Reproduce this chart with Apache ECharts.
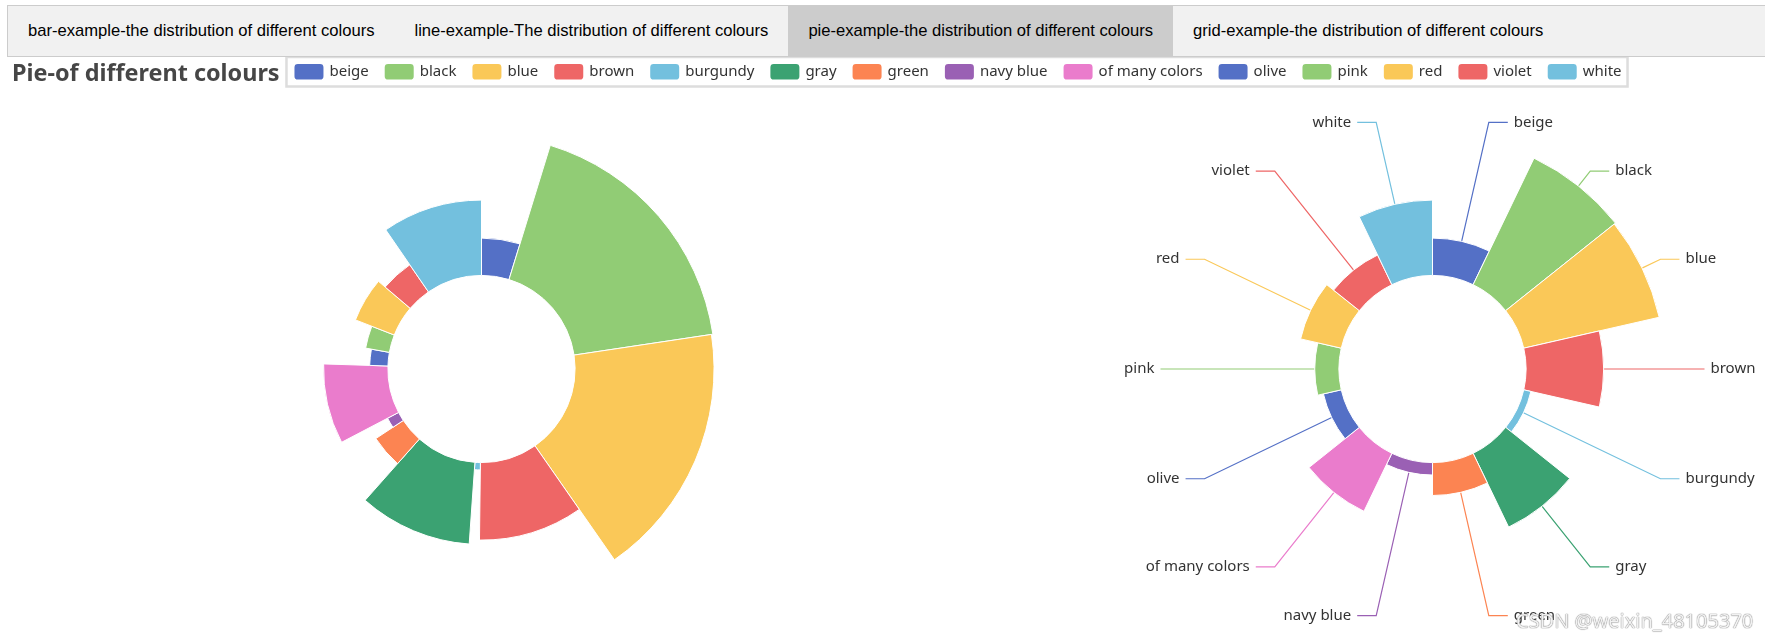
<!DOCTYPE html>
<html>
<head>
<meta charset="utf-8">
<title>pie-example</title>
<script src="https://cdn.jsdelivr.net/npm/echarts@6/dist/echarts.min.js"></script>
<style>
  body { margin: 0; overflow: hidden; background: #fff; }
  .tab { position: absolute; left: 7px; top: 5px; right: -5px; overflow: hidden; border: 1px solid #ccc; background-color: #f1f1f1; }
  .tab button { background-color: inherit; float: left; border: none; outline: none; padding: 15px 20px; line-height: 20px;
    font-family: Arial, "Liberation Sans", sans-serif; font-size: 16.6px; color: #000; }
  .tab button.active { background-color: #ccc; }
  #main { position: absolute; left: 6px; top: 57px; width: 1902px; height: 624px; }
  .mark { position: absolute; left: 1516px; top: 607px; font: 20px "Noto Sans", sans-serif; color: #f2f2f2;
    text-shadow: 0 0 1px #777, 0 0 1px #777; }
</style>
</head>
<body>
<div class="tab">
  <button>bar-example-the distribution of different colours</button>
  <button>line-example-The distribution of different colours</button>
  <button class="active">pie-example-the distribution of different colours</button>
  <button>grid-example-the distribution of different colours</button>
</div>
<div id="main"></div>
<div class="mark">CSDN @weixin_48105370</div>
<script>
// colour names and how many items of each
var colourNames = ['beige', 'black', 'blue', 'brown', 'burgundy', 'gray', 'green', 'navy blue',
  'of many colors', 'olive', 'pink', 'red', 'violet', 'white'];
var colourCounts = [51, 192, 190, 106, 10, 112, 45, 17, 88, 25, 33, 57, 45, 103];

var palette = ['#5470c6', '#91cc75', '#fac858', '#ee6666', '#73c0de', '#3ba272', '#fc8452', '#9a60b4', '#ea7ccc'];
var font = '"Microsoft YaHei", "Noto Sans", sans-serif';

var pieData = []; //name/value pairs for both pies
for (var i = 0; i < colourNames.length; i++) {
  pieData.push({ name: colourNames[i], value: colourCounts[i] });
}

var chart = echarts.init(document.getElementById('main'));
chart.setOption({
  color: palette,
  animation: false,
  title: {
    text: 'Pie-of different colours',
    left: 0,
    top: 0,
    padding: 6,
    textStyle: { fontFamily: font, fontSize: 23.4, fontWeight: 'bold', color: '#464646' }
  },
  legend: {
    data: colourNames,
    left: 'center',
    top: 0,
    padding: [5, 6, 5, 6],
    borderColor: '#ddd',
    borderWidth: 2.5,
    itemWidth: 31,
    itemHeight: 17.5,
    itemGap: 14,
    icon: 'roundRect',
    textStyle: { fontFamily: font, fontSize: 15, color: '#333' }
  },
  series: [
    {
      name: 'radius',
      type: 'pie',
      roseType: 'radius',
      center: ['25%', '50%'],
      radius: ['30%', '75%'],
      itemStyle: { borderColor: '#fff', borderWidth: 1 },
      label: { show: false },
      labelLine: { show: false },
      data: pieData
    },
    {
      name: 'area',
      type: 'pie',
      roseType: 'area',
      center: ['75%', '50%'],
      radius: ['30%', '75%'],
      itemStyle: { borderColor: '#fff', borderWidth: 1 },
      label: { show: true, fontFamily: font, fontSize: 15, color: '#333', distanceToLabelLine: 6 },
      labelLine: { show: true, length: 19, length2: 19, lineStyle: { width: 1.2 } },
      data: pieData
    }
  ]
});
</script>
</body>
</html>
